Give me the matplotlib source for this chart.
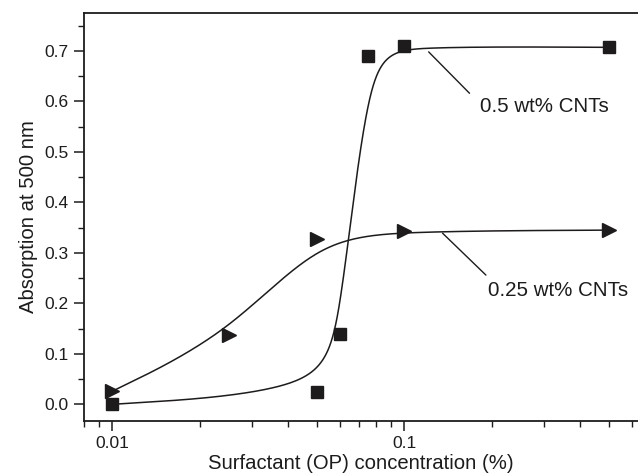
import numpy as np
import matplotlib
matplotlib.use("Agg")
import matplotlib.pyplot as plt
from matplotlib.ticker import FixedLocator, LogLocator, NullFormatter, MultipleLocator

# ---- data ----
conc_05 = [0.01, 0.05, 0.06, 0.075, 0.1, 0.5]
abs_05 = [0.0, 0.025, 0.14, 0.69, 0.709, 0.707]
conc_025 = [0.01, 0.025, 0.05, 0.1, 0.5]
abs_025 = [0.026, 0.138, 0.327, 0.343, 0.345]
label_05 = "0.5 wt% CNTs"
label_025 = "0.25 wt% CNTs"
xtick_vals = [0.01, 0.1]
xtick_labels = ["0.01", "0.1"]
ytick_vals = [0.0, 0.1, 0.2, 0.3, 0.4, 0.5, 0.6, 0.7]
ytick_labels = ["0.0", "0.1", "0.2", "0.3", "0.4", "0.5", "0.6", "0.7"]


def bspline(cx, cy, per_seg=80):
    """Uniform cubic B-spline (Origin 'B-Spline' line), data points as control
    points, end points repeated so the curve starts/ends on them."""
    cx = np.concatenate([[cx[0]] * 2, cx, [cx[-1]] * 2])
    cy = np.concatenate([[cy[0]] * 2, cy, [cy[-1]] * 2])
    u = np.linspace(0, 1, per_seg, endpoint=False)
    b0 = (1 - u) ** 3 / 6
    b1 = (3 * u ** 3 - 6 * u ** 2 + 4) / 6
    b2 = (-3 * u ** 3 + 3 * u ** 2 + 3 * u + 1) / 6
    b3 = u ** 3 / 6
    xs, ys = [], []
    for i in range(len(cx) - 3):
        xs.append(b0 * cx[i] + b1 * cx[i + 1] + b2 * cx[i + 2] + b3 * cx[i + 3])
        ys.append(b0 * cy[i] + b1 * cy[i + 1] + b2 * cy[i + 2] + b3 * cy[i + 3])
    xs.append([cx[-1]])
    ys.append([cy[-1]])
    return np.concatenate(xs), np.concatenate(ys)


plt.rcParams['font.family'] = ['Liberation Sans', 'DejaVu Sans']

fig = plt.figure(figsize=(6.38, 4.74), dpi=100)
ax = fig.add_axes([84 / 638, 1 - 421 / 474, 1 - 84 / 638, (421 - 13) / 474])

ink = '#1e1b1c'
for cx, cy in [(conc_05, abs_05), (conc_025, abs_025)]:
    lx, ly = bspline(np.log10(cx), np.asarray(cy, float))
    ax.plot(10 ** lx, ly, color=ink, lw=1.1, zorder=2)

ax.plot(conc_05, abs_05, linestyle='none', marker='s', ms=8.6, color=ink, zorder=3)
ax.plot(conc_025, abs_025, linestyle='none', marker='>', ms=10.5, color=ink, zorder=3)

ax.set_xscale('log')
ax.set_xlim(0.008, 0.63)
ax.set_ylim(-0.033, 0.775)

ax.xaxis.set_major_locator(FixedLocator(xtick_vals))
ax.set_xticklabels(xtick_labels)
ax.xaxis.set_minor_locator(LogLocator(base=10, subs=np.arange(2, 10)))
ax.xaxis.set_minor_formatter(NullFormatter())
ax.set_yticks(ytick_vals)
ax.set_yticklabels(ytick_labels)
ax.yaxis.set_minor_locator(MultipleLocator(0.05))

ax.spines['right'].set_visible(False)
for s in ['left', 'bottom', 'top']:
    ax.spines[s].set_linewidth(1.3)
    ax.spines[s].set_color(ink)
ax.tick_params(which='major', direction='out', length=7, width=1.1, labelsize=12.5, colors=ink, pad=4)
ax.tick_params(which='minor', direction='out', length=4, width=1.0, colors=ink)
ax.tick_params(top=False, right=False, which='both')

ax.set_xlabel('Surfactant (OP) concentration (%)', fontsize=14.6, labelpad=2, color=ink)
ax.set_ylabel('Absorption at 500 nm', fontsize=14.6, labelpad=5, color=ink)

# labels with leader lines
ax.annotate('', xy=(0.121, 0.698), xytext=(0.167, 0.616),
            arrowprops=dict(arrowstyle='-', color=ink, lw=1.0, shrinkA=0, shrinkB=0))
ax.text(0.181, 0.589, label_05, fontsize=14.8, color=ink, ha='left', va='center')
ax.annotate('', xy=(0.135, 0.339), xytext=(0.190, 0.256),
            arrowprops=dict(arrowstyle='-', color=ink, lw=1.0, shrinkA=0, shrinkB=0))
ax.text(0.193, 0.226, label_025, fontsize=14.8, color=ink, ha='left', va='center')

fig.savefig('out.png', dpi=100)
